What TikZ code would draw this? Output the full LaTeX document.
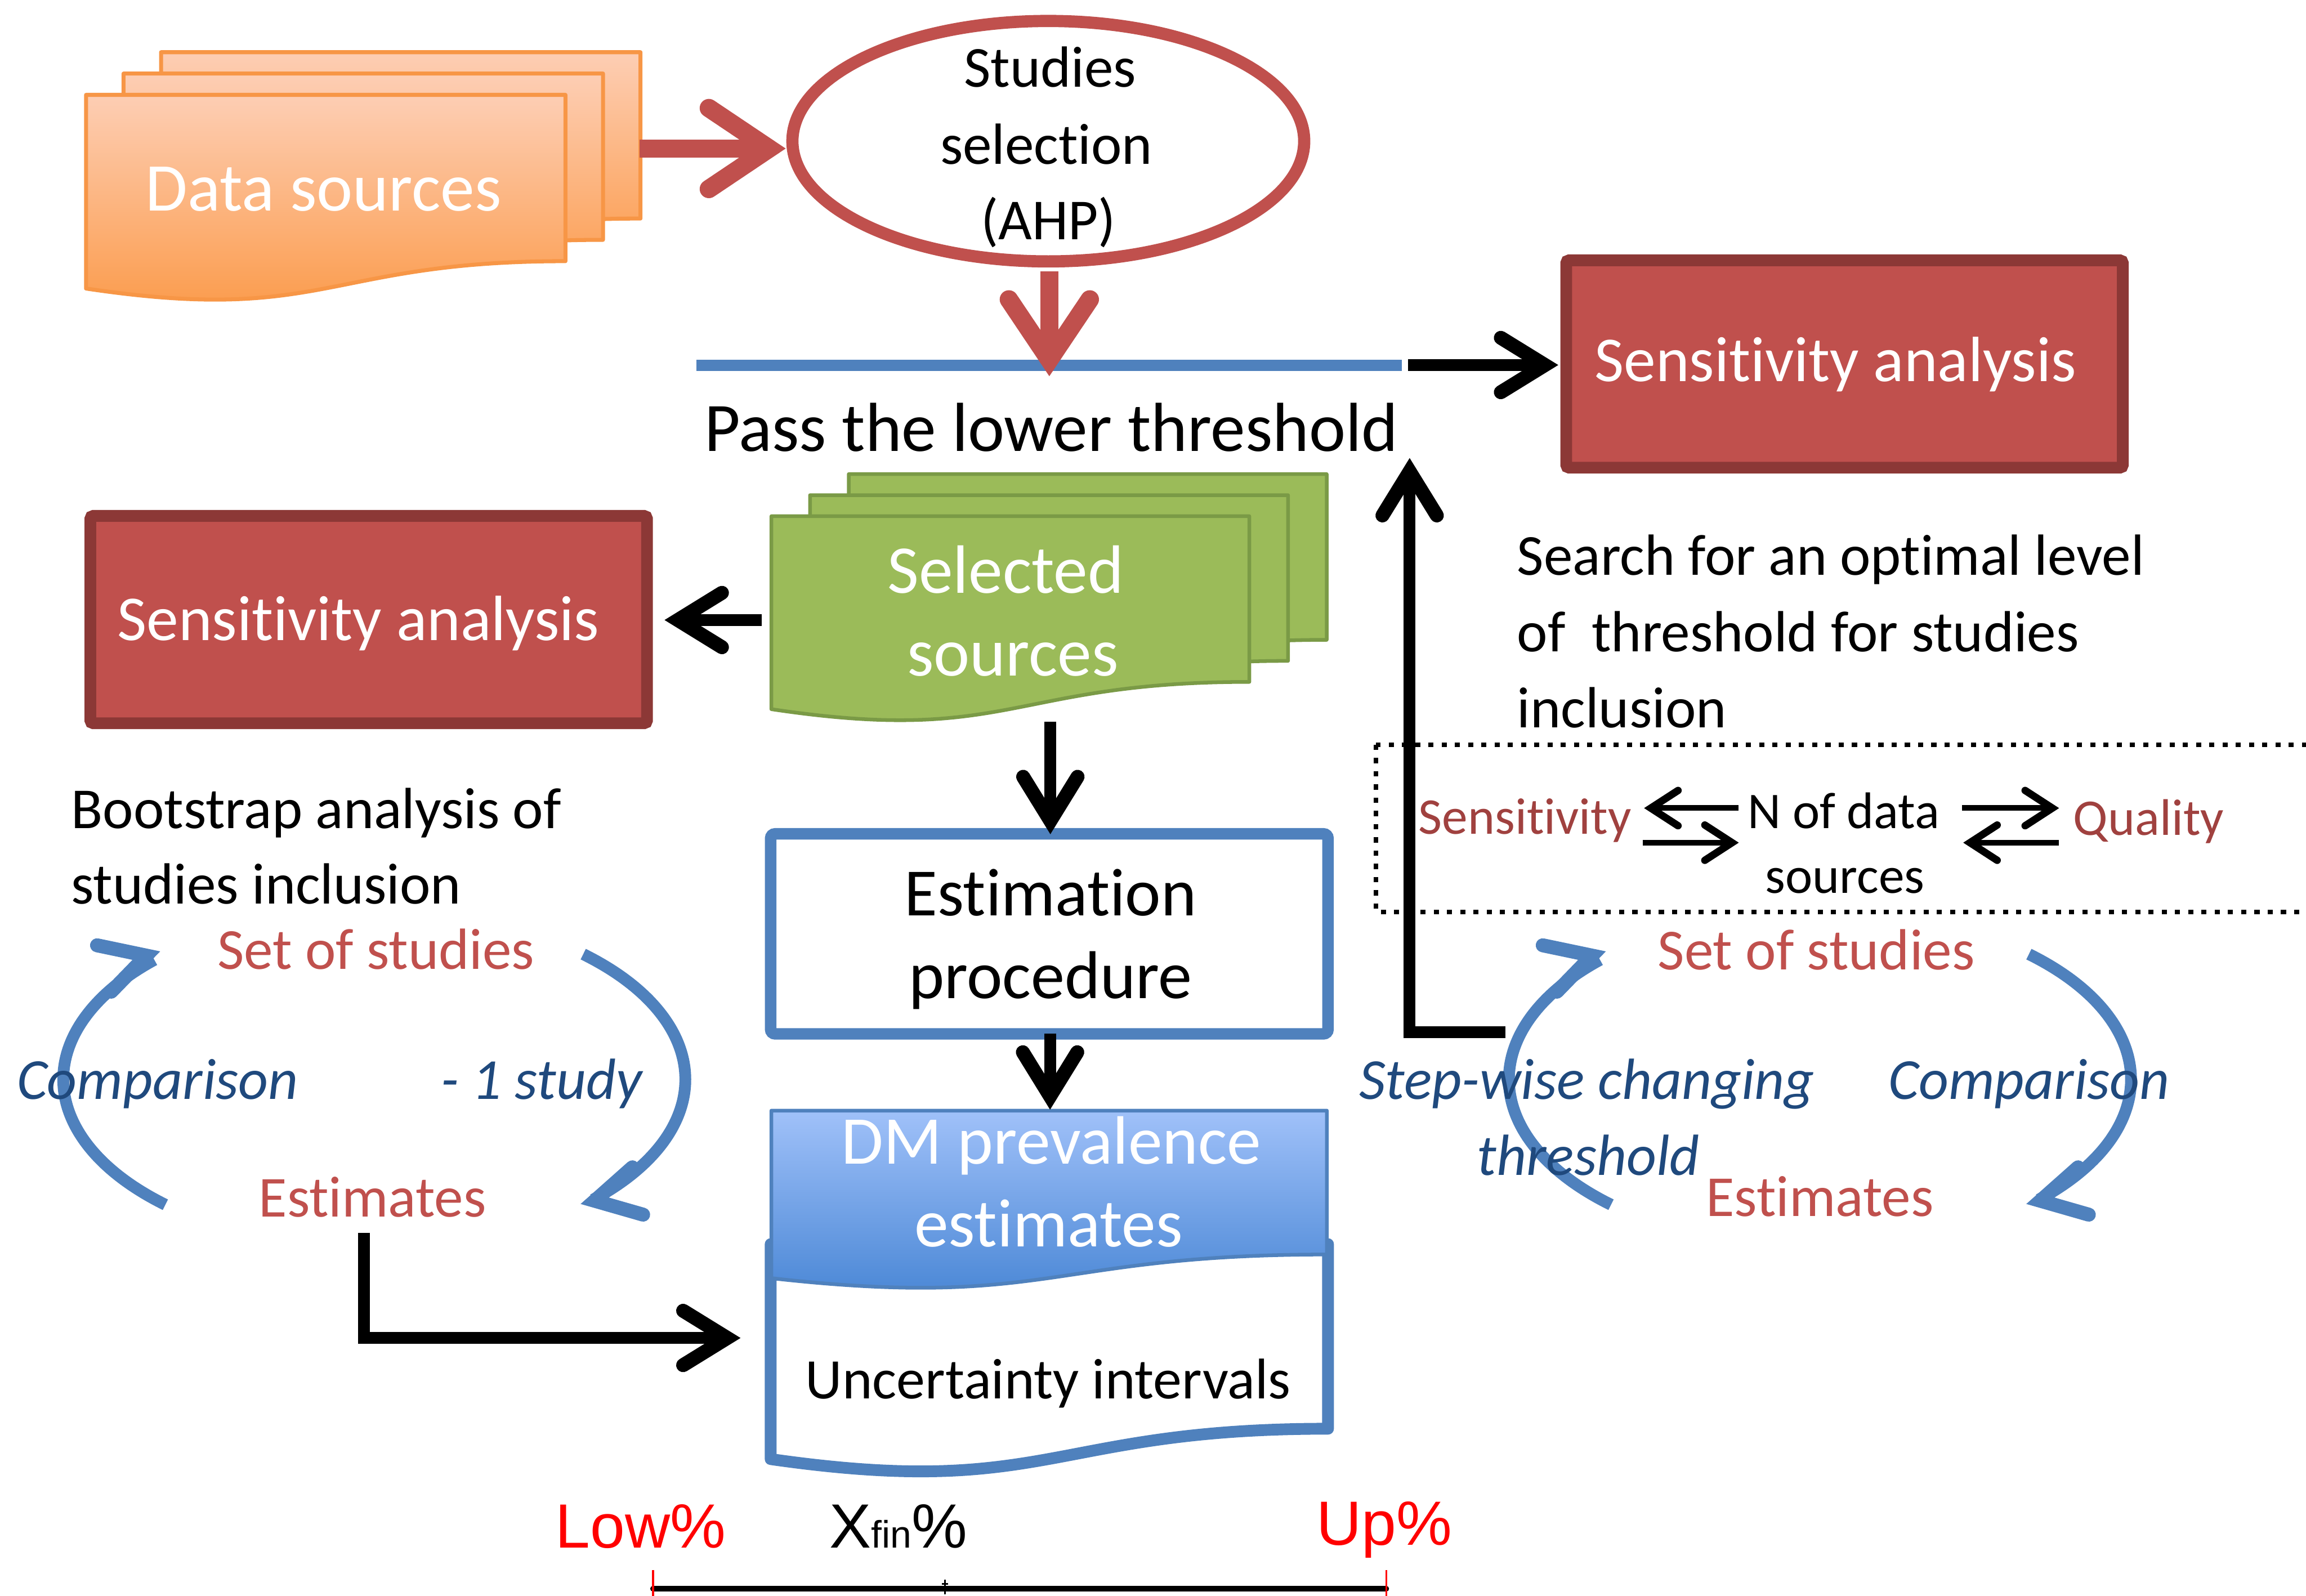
\documentclass[tikz,border=0pt]{standalone}
\usepackage{fontspec}
\setmainfont{Carlito}[Ligatures=NoCommon]
\newfontfamily\arialf{Liberation Sans}[Ligatures=NoCommon]
\usetikzlibrary{shapes.geometric,calc}
\definecolor{accred}{HTML}{C0504D}
\definecolor{darkred}{HTML}{8C3836}
\definecolor{accblue}{HTML}{4F81BD}
\definecolor{navy}{HTML}{1F497D}
\definecolor{grn}{HTML}{9BBB59}
\definecolor{grnline}{HTML}{7A9A46}
\definecolor{orline}{HTML}{F79646}
\definecolor{ortop}{HTML}{FDCEB4}
\definecolor{orbot}{HTML}{FB9845}
\definecolor{dmtop}{HTML}{A0C1F9}
\definecolor{dmbot}{HTML}{4483D3}
\definecolor{sensred}{HTML}{A0413F}
\definecolor{brightred}{HTML}{FF0000}
\newcommand\fsz[1]{\fontsize{#1}{#1}\selectfont}
\newcommand\docpath[5]{\path[#1] (#2,#3) -- ({#2+#4},#3) -- ({#2+#4},{#3+0.802*#5}) .. controls ({#2+0.5*#4},{#3+0.802*#5}) and ({#2+0.5*#4},{#3+1.1075*#5}) .. (#2,{#3+0.934*#5}) -- cycle;}
\begin{document}
\begin{tikzpicture}[x=1pt,y=-1pt,
  txt/.style={anchor=base, inner sep=0pt, outer sep=0pt},
  txtw/.style={anchor=base west, inner sep=0pt, outer sep=0pt},
  blk/.style={draw=black, line width=8pt},
  blkchev/.style={draw=black, line width=9.5pt, line cap=round, line join=miter},
  redln/.style={draw=accred, line width=12pt},
  redchev/.style={draw=accred, line width=12.5pt, line cap=round, line join=miter},
  cycln/.style={draw=accblue, line width=8pt},
  cycchev/.style={draw=accblue, line width=9.5pt, line cap=round, line join=miter},
  smallln/.style={draw=black, line width=3.8pt},
  smallchev/.style={draw=black, line width=5pt, line cap=round, line join=miter},
  sensbox/.style={draw=darkred, fill=accred, line width=8pt, rounded corners=2pt, minimum width=378.5pt, minimum height=141pt, inner sep=0pt},
  orsheet/.style={draw=orline, line width=2.7pt, top color=ortop, bottom color=orbot, line join=round},
  grsheet/.style={draw=grnline, line width=2.5pt, fill=grn, line join=round},
  wtxt/.style={txt, text=white},
]
\useasboundingbox (0,0) rectangle (1568,1085);
\clip (0,0) rectangle (1568,1085);
\fill[white] (0,0) rectangle (1568,1085);

% ---------- Data sources stack ----------
\docpath{orsheet}{109.5}{35.5}{326}{141}
\docpath{orsheet}{84}{50}{326}{141}
\docpath{orsheet}{58.5}{64.5}{326}{141}
\node[wtxt, font=\fsz{46.5}] (dsrc) at (220,143.4) {Data sources};

% ---------- Studies selection ----------
\node[draw=accred, fill=white, line width=8.3pt, ellipse, minimum width=348pt, minimum height=163.5pt, inner sep=0pt] (ahp) at (712.8,96) {};
\node[txt, font=\fsz{39.5}] (ahp1) at (714,59.3) {Studies};
\node[txt, font=\fsz{39.5}] (ahp2) at (711.5,111.6) {selection};
\node[txt, font=\fsz{39.5}] (ahp3) at (712.8,163) {(AHP)};

% red arrow data sources -> selection
\coordinate (r1s) at (435,101);
\coordinate (r1t) at (523,101);
\draw[redln] (r1s) -- (r1t);
\draw[redchev] ($(r1t)+(-41,-27.5)$) -- (r1t) -- ($(r1t)+(-41,27.5)$);

% threshold line
\coordinate (thrL) at (473.7,248.3);
\coordinate (thrR) at (953,248.3);
\draw[accblue, line width=7.6pt] (thrL) -- (thrR);

% red arrow selection -> threshold
\coordinate (r2s) at (713.5,184.5);
\coordinate (r2t) at (713.5,244.6);
\draw[redln] (r2s) -- (r2t);
\draw[redchev] ($(r2t)+(-27.5,-41)$) -- (r2t) -- ($(r2t)+(27.5,-41)$);

\node[txt, font=\fsz{47.2}] (pass) at (714.8,306.9) {Pass the lower threshold};

% ---------- right sensitivity ----------
\node[sensbox] (rsens) at (1254.2,247.5) {};
\node[wtxt, font=\fsz{43.5}] (rsensT) at (1248,259.4) {Sensitivity analysis};
\coordinate (b1s) at (957.5,248.2);
\coordinate (b1t) at (1050.5,248.2);
\draw[blk] (b1s) -- (b1t);
\draw[blkchev] ($(b1t)+(-30,-18.5)$) -- (b1t) -- ($(b1t)+(-30,18.5)$);

\node[txtw, font=\fsz{39.5}] (srch1) at (1031.6,390.9) {Search for an optimal level};
\node[txtw, font=\fsz{39.5}] (srch2) at (1031.6,443) {of\ \ threshold for studies};
\node[txtw, font=\fsz{39.5}] (srch3) at (1031.6,494.6) {inclusion};

% ---------- Selected sources stack ----------
\docpath{grsheet}{577.1}{322.4}{325}{140.5}
\docpath{grsheet}{550.8}{336.7}{325}{140.5}
\docpath{grsheet}{524.5}{351}{325}{140.5}
\node[wtxt, font=\fsz{46.5}] (sel1) at (683.8,403.4) {Selected};
\node[wtxt, font=\fsz{46.5}] (sel2) at (688.7,459.5) {sources};

% ---------- left sensitivity ----------
\node[sensbox] (lsens) at (250.7,421.3) {};
\node[wtxt, font=\fsz{43.5}] (lsensT) at (243.6,435.3) {Sensitivity analysis};
\coordinate (b2s) at (518,421.6);
\coordinate (b2t) at (460.9,421.6);
\draw[blk] (b2s) -- (b2t);
\draw[blkchev] ($(b2t)+(30,-18.5)$) -- (b2t) -- ($(b2t)+(30,18.5)$);

\node[txtw, font=\fsz{39.5}] (boot1) at (48.5,563.3) {Bootstrap analysis of};
\node[txtw, font=\fsz{39.5}] (boot2) at (48.5,614.6) {studies inclusion};

% ---------- Estimation procedure ----------
\coordinate (b3s) at (714.2,490.7);
\coordinate (b3t) at (714.2,558.2);
\node[draw=accblue, fill=white, line width=7.8pt, rounded corners=3pt, minimum width=379pt, minimum height=136pt, inner sep=0pt] (est) at (713.5,635) {};
\draw[blk] (b3s) -- (b3t);
\draw[blkchev] ($(b3t)+(-18.5,-30)$) -- (b3t) -- ($(b3t)+(18.5,-30)$);
\node[txt, font=\fsz{46}] (est1) at (714.3,622.7) {Estimation};
\node[txt, font=\fsz{46}] (est2) at (714.3,678.8) {procedure};

% ---------- DM prevalence / uncertainty ----------
\docpath{draw=accblue, fill=white, line width=8pt, line join=round}{524}{846}{379}{156.5}
\docpath{draw=accblue, line width=2.5pt, top color=dmtop, bottom color=dmbot, line join=round}{524.5}{755.2}{377.7}{122}
\coordinate (b4s) at (714,703);
\coordinate (b4t) at (714,745.5);
\draw[blk] (b4s) -- (b4t);
\draw[blkchev] ($(b4t)+(-18.5,-30)$) -- (b4t) -- ($(b4t)+(18.5,-30)$);
\node[wtxt, font=\fsz{46.5}] (dm1) at (714.8,791.5) {DM prevalence};
\node[wtxt, font=\fsz{46.5}] (dm2) at (713,847.9) {estimates};
\node[txt, font=\fsz{39}] (unc) at (712.7,951.2) {Uncertainty intervals};

% ---------- left cycle ----------
\coordinate (cycL) at (254.5,734);
\coordinate (tL1) at (99.5,649.8);
\coordinate (tL2) at (404.4,816.5);
\draw[cycln] (cycL) ++(132.2:211.5 and 115) arc[start angle=132.2, end angle=225, x radius=211.5, y radius=115];
\draw[cycln] (cycL) ++(-47.8:211.5 and 115) arc[start angle=-47.8, end angle=45.3, x radius=211.5, y radius=115];
\draw[cycchev, shift={(tL1)}, rotate=17] (-30,16.5) -- (0,0) -- (-30,-16.5);
\draw[cycchev, shift={(tL2)}, rotate=192.8] (-30,16.5) -- (0,0) -- (-30,-16.5);
\node[txt, font=\fsz{39.5}, text=accred] (lset) at (255.6,659) {Set of studies};
\node[txt, font=\fsz{39.5}, text=accred] (lest) at (253.3,827.3) {Estimates};
\node[txt, font=\fsz{39.5}\itshape, text=navy] (lcmp) at (107.2,747.3) {Comparison};
\node[txt, font=\fsz{39.5}\itshape, text=navy] (lone) at (368.3,747.3) {- 1 study};

% L connector estimates -> uncertainty
\coordinate (b5s) at (247.4,838.3);
\coordinate (b5t) at (494.5,909.8);
\draw[blk] (b5s) |- (b5t);
\draw[blkchev] ($(b5t)+(-30,-18.5)$) -- (b5t) -- ($(b5t)+(-30,18.5)$);

% ---------- dotted box ----------
\draw[black, line width=3pt, dash pattern=on 3.5pt off 5.5pt] (935.5,506.4) rectangle (1620,620);
\node[txt, font=\fsz{35}, text=sensred] (dsens) at (1037,567.3) {Sensitivity};
\node[txt, font=\fsz{35}] (dn1) at (1253.6,563.4) {N of data};
\node[txt, font=\fsz{35}] (dn2) at (1254.5,607.5) {sources};
\node[txt, font=\fsz{35}, text=sensred] (dqual) at (1461,567.8) {Quality};
% small double arrows
\coordinate (s1a) at (1182.2,549.5); \coordinate (s1t) at (1122.5,549.5);
\draw[smallln] (s1a) -- (s1t);
\draw[smallchev] ($(s1t)+(18.5,-12)$) -- (s1t) -- ($(s1t)+(18.5,12)$);
\coordinate (s2a) at (1117,573); \coordinate (s2t) at (1177.7,573);
\draw[smallln] (s2a) -- (s2t);
\draw[smallchev] ($(s2t)+(-18.5,-12)$) -- (s2t) -- ($(s2t)+(-18.5,12)$);
\coordinate (s3a) at (1334,549.5); \coordinate (s3t) at (1395.5,549.5);
\draw[smallln] (s3a) -- (s3t);
\draw[smallchev] ($(s3t)+(-18.5,-12)$) -- (s3t) -- ($(s3t)+(-18.5,12)$);
\coordinate (s4a) at (1400,573); \coordinate (s4t) at (1339.5,573);
\draw[smallln] (s4a) -- (s4t);
\draw[smallchev] ($(s4t)+(18.5,-12)$) -- (s4t) -- ($(s4t)+(18.5,12)$);

% ---------- right cycle ----------
\coordinate (cycR) at (1237.5,734);
\coordinate (tR1) at (1082.5,649.8);
\coordinate (tR2) at (1387.4,816.5);
\draw[cycln] (cycR) ++(132.2:211.5 and 115) arc[start angle=132.2, end angle=225, x radius=211.5, y radius=115];
\draw[cycln] (cycR) ++(-47.8:211.5 and 115) arc[start angle=-47.8, end angle=45.3, x radius=211.5, y radius=115];
\draw[cycchev, shift={(tR1)}, rotate=17] (-30,16.5) -- (0,0) -- (-30,-16.5);
\draw[cycchev, shift={(tR2)}, rotate=192.8] (-30,16.5) -- (0,0) -- (-30,-16.5);
\node[txt, font=\fsz{39.5}, text=accred] (rset) at (1235,659.4) {Set of studies};
\node[txt, font=\fsz{39.5}, text=accred] (rest) at (1237.4,827.2) {Estimates};
\node[txt, font=\fsz{39.5}\itshape, text=navy] (rstep1) at (1079,747.4) {Step-wise changing};
\node[txt, font=\fsz{39.5}\itshape, text=navy] (rstep2) at (1080,799) {threshold};
\node[txt, font=\fsz{39.5}\itshape, text=navy] (rcmp) at (1379.7,747.4) {Comparison};

% up connector: step-wise cycle -> threshold
\coordinate (b6s) at (1023.7,702);
\coordinate (b6t) at (958.5,320.5);
\draw[blk] (b6s) -| (b6t);
\draw[blkchev] ($(b6t)+(-18.5,30)$) -- (b6t) -- ($(b6t)+(18.5,30)$);

% ---------- interval scale ----------
\node[txt, font=\arialf\fsz{42.5}, text=brightred] (low) at (435.7,1052.7) {Low\%};
\node[txt, font=\arialf\fsz{42.5}] (xfin) at (610.8,1052.7) {X{\fsz{26}fin}\%};
\node[txt, font=\arialf\fsz{42.5}, text=brightred] (up) at (941.3,1050.6) {Up\%};
\coordinate (barL) at (444,1080.4);
\coordinate (barR) at (942.6,1080.4);
\draw[black, line width=3.8pt, line cap=round] (barL) -- (barR);
\draw[brightred, line width=1.4pt] (444,1067.5) -- (444,1090);
\draw[brightred, line width=1.4pt] (942.6,1067.5) -- (942.6,1090);
\draw[black, line width=0.9pt] (642.5,1074) -- (642.5,1084);
\draw[black, line width=0.9pt] (640.5,1077) -- (644.5,1077);
\end{tikzpicture}
\end{document}
